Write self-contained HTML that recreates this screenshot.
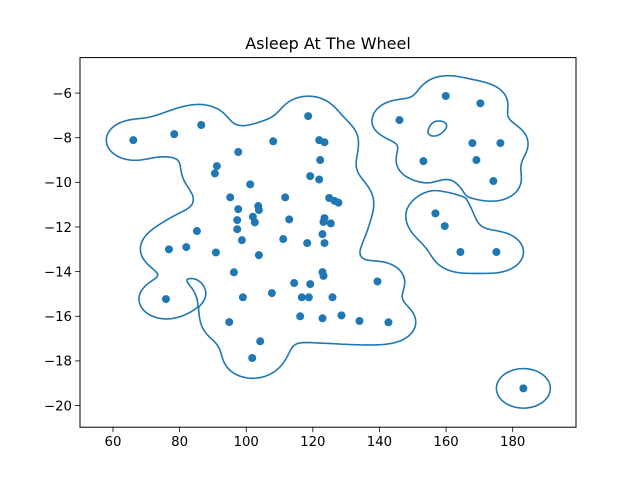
<!DOCTYPE html>
<html><head><meta charset="utf-8">
<style>
body{margin:0;background:#fff;}
svg{display:block;font-family:"DejaVu Sans","Liberation Sans",sans-serif;}
</style></head>
<body>
<svg id="chart" width="640" height="480" xmlns="http://www.w3.org/2000/svg">
<rect width="640" height="480" fill="#fff"/>
<text x="328" y="49" text-anchor="middle" font-size="16" fill="#000">Asleep At The Wheel</text>
<g id="contour"></g>
<g id="points"></g>
<g id="xaxis"></g>
<g id="yaxis"></g>
<rect x="80" y="57.6" width="496" height="369.6" fill="none" stroke="#000" stroke-width="1"/>
</svg>
<script>
const xValues = [66.1,78.4,86.5,118.6,108.1,121.9,123.5,97.6,91.2,90.6,122.2,119.2,121.9,101.2,95.2,111.7,124.9,126.5,127.7,97.6,103.6,103.8,97.3,102.0,102.6,112.9,123.5,123.2,125.4,97.3,122.9,85.2,98.7,111.1,118.3,123.5,76.8,82.0,90.9,103.8,96.3,122.9,123.2,114.4,119.2,139.4,75.9,99.0,107.7,116.7,118.8,125.9,94.9,116.2,122.9,128.6,134.0,104.2,101.8,142.7,159.9,170.3,146.0,167.9,176.3,153.2,169.1,174.2,156.8,159.6,164.3,175.1,183.2];
const yValues = [-8.11,-7.84,-7.43,-7.03,-8.16,-8.11,-8.20,-8.64,-9.27,-9.60,-9.00,-9.72,-9.87,-10.09,-10.67,-10.67,-10.70,-10.83,-10.91,-11.20,-11.06,-11.24,-11.69,-11.54,-11.79,-11.66,-11.60,-11.77,-11.84,-12.10,-12.32,-12.18,-12.59,-12.54,-12.72,-12.72,-13.00,-12.90,-13.14,-13.26,-14.03,-14.02,-14.19,-14.51,-14.56,-14.44,-15.23,-15.15,-14.96,-15.15,-15.15,-15.15,-16.26,-16.00,-16.09,-15.96,-16.21,-17.12,-17.87,-16.27,-6.13,-6.46,-7.21,-8.24,-8.24,-9.05,-9.00,-9.94,-11.39,-11.96,-13.12,-13.12,-19.23];
const xTicks = [60,80,100,120,140,160,180];
const yTicks = [-6,-8,-10,-12,-14,-16,-18,-20];
const xDomain = [50.1,199.0];
const yDomain = [-20.97,-4.41];

const L=80,R=576,T=57.6,B=427.2;
const NS="http://www.w3.org/2000/svg";
function sx(v){return L+(v-xDomain[0])/(xDomain[1]-xDomain[0])*(R-L);}
function sy(v){return B-(v-yDomain[0])/(yDomain[1]-yDomain[0])*(B-T);}
function mk(tag,attrs,parent){const e=document.createElementNS(NS,tag);for(const k in attrs)e.setAttribute(k,attrs[k]);parent.appendChild(e);return e;}

// KDE contour
const SIG_X=5.4, SIG_Y=0.59, LEVEL=0.325;
function dens(x,y){let s=0;for(let i=0;i<xValues.length;i++){const dx=(x-xValues[i])/SIG_X,dy=(y-yValues[i])/SIG_Y;s+=Math.exp(-0.5*(dx*dx+dy*dy));}return s;}
const step=2;
const nx=Math.ceil((R-L)/step)+1, ny=Math.ceil((B-T)/step)+1;
const grid=[];
function ix(px){return xDomain[0]+(px-L)/(R-L)*(xDomain[1]-xDomain[0]);}
function iy(py){return yDomain[0]+(B-py)/(B-T)*(yDomain[1]-yDomain[0]);}
for(let j=0;j<ny;j++){const row=[];for(let i=0;i<nx;i++){row.push(dens(ix(L+i*step),iy(T+j*step))-LEVEL);}grid.push(row);}
let d="";
function lerp(a,b){return a/(a-b);}
for(let j=0;j<ny-1;j++)for(let i=0;i<nx-1;i++){
  const v0=grid[j][i],v1=grid[j][i+1],v2=grid[j+1][i+1],v3=grid[j+1][i];
  const x0=L+i*step,y0=T+j*step;
  const pts=[];
  if((v0>0)!==(v1>0))pts.push([x0+lerp(v0,v1)*step,y0]);
  if((v1>0)!==(v2>0))pts.push([x0+step,y0+lerp(v1,v2)*step]);
  if((v3>0)!==(v2>0))pts.push([x0+lerp(v3,v2)*step,y0+step]);
  if((v0>0)!==(v3>0))pts.push([x0,y0+lerp(v0,v3)*step]);
  for(let k=0;k+1<pts.length;k+=2)d+="M"+pts[k][0].toFixed(2)+","+pts[k][1].toFixed(2)+"L"+pts[k+1][0].toFixed(2)+","+pts[k+1][1].toFixed(2);
}
const cg=document.getElementById('contour');
const cp=mk('path',{d:d,fill:'none',stroke:'#1f77b4','stroke-width':1.6,'stroke-linecap':'round'},cg);



const pg=document.getElementById('points');
for(let i=0;i<xValues.length;i++){
  const c=mk('circle',{cx:sx(xValues[i]),cy:sy(yValues[i]),r:4,fill:'#1f77b4'},pg);
  
  
}
const xg=document.getElementById('xaxis');
xTicks.forEach(t=>{
  const x=sx(t);
  const ln=mk('line',{x1:x,x2:x,y1:B,y2:B+4.9,stroke:'#000','stroke-width':0.8},xg);
  
  
  const tx=mk('text',{x:x,y:B+19,'text-anchor':'middle','font-size':13.3,fill:'#000'},xg);
  tx.textContent=t;
  
  
});
const yg=document.getElementById('yaxis');
yTicks.forEach(t=>{
  const y=sy(t);
  const ln=mk('line',{x1:L-4.9,x2:L,y1:y,y2:y,stroke:'#000','stroke-width':0.8},yg);
  
  
  const tx=mk('text',{x:L-8,y:y+4.8,'text-anchor':'end','font-size':13.3,fill:'#000'},yg);
  tx.textContent='\u2212'+Math.abs(t);
  
  
});
</script>
</body></html>
